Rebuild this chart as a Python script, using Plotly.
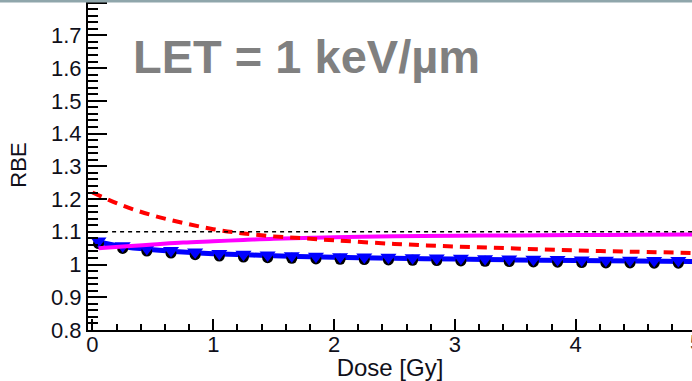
import plotly.graph_objects as go

# Dose grid for the continuous model curves [Gy]
dose_curve = [0.0, 0.25, 0.5, 0.75, 1.0, 1.25, 1.5, 1.75, 2.0, 2.5, 3.0, 3.5, 4.0, 4.5, 5.0]
# Red dashed model
rbe_red = [1.220, 1.180, 1.150, 1.127, 1.108, 1.095, 1.086, 1.080, 1.074, 1.063, 1.055, 1.049, 1.043, 1.039, 1.035]

# Magenta model
dose_mag = [0.05, 0.25, 0.5, 0.75, 1.0, 1.25, 1.5, 2.0, 2.5, 3.0, 3.5, 4.0, 4.5, 5.0]
rbe_mag = [1.050, 1.055, 1.061, 1.067, 1.071, 1.075, 1.079, 1.083, 1.086, 1.088, 1.089, 1.090, 1.091, 1.092]

# Blue model curve
dose_blue = [0.02, 0.25, 0.5, 0.75, 1.0, 1.5, 2.0, 2.5, 3.0, 3.5, 4.0, 4.5, 5.0]
rbe_blue = [1.072, 1.055, 1.045, 1.038, 1.033, 1.027, 1.022, 1.019, 1.017, 1.014, 1.012, 1.011, 1.009]

# Computed points (blue triangles and black circles)
dose_pts = [0.05, 0.25, 0.45, 0.65, 0.85, 1.05, 1.25, 1.45, 1.65, 1.85, 2.05, 2.25, 2.45,
            2.65, 2.85, 3.05, 3.25, 3.45, 3.65, 3.85, 4.05, 4.25, 4.45, 4.65, 4.85]
rbe_tri = [1.072, 1.057, 1.049, 1.043, 1.038, 1.034, 1.031, 1.029, 1.027, 1.025, 1.024, 1.023, 1.022,
           1.021, 1.020, 1.019, 1.018, 1.017, 1.016, 1.015, 1.014, 1.013, 1.013, 1.012, 1.012]
rbe_circ = [1.064, 1.049, 1.041, 1.035, 1.030, 1.026, 1.023, 1.021, 1.019, 1.017, 1.016, 1.015, 1.014,
            1.013, 1.012, 1.011, 1.010, 1.009, 1.008, 1.007, 1.006, 1.005, 1.005, 1.004, 1.004]

# Reference level
ref_dose = [0.03, 5.0]
ref_rbe = [1.1, 1.1]

x_range = [-0.037, 4.963]
y_range = [0.8, 1.808]
x_ticks = [0, 1, 2, 3, 4, 5]

label_font = dict(family="Liberation Sans, Arial, sans-serif", size=22, color="#10101a")
title_font = dict(family="Liberation Sans, Arial, sans-serif", size=24, color="#10101a")

fig = go.Figure()
fig.add_trace(go.Scatter(x=dose_blue, y=rbe_blue, mode="lines", line=dict(color="#0000ff", width=5),
                         line_shape="spline", hoverinfo="skip"))
fig.add_trace(go.Scatter(x=dose_pts, y=rbe_circ, mode="markers",
                         marker=dict(symbol="circle", size=11, color="#000000"), hoverinfo="skip"))
fig.add_trace(go.Scatter(x=dose_pts, y=rbe_tri, mode="markers",
                         marker=dict(symbol="triangle-down", size=14, color="#0000ff"), hoverinfo="skip"))
fig.add_trace(go.Scatter(x=dose_mag, y=rbe_mag, mode="lines", line=dict(color="#ff00ff", width=4),
                         line_shape="spline", hoverinfo="skip"))
fig.add_trace(go.Scatter(x=dose_curve, y=rbe_red, mode="lines",
                         line=dict(color="#ff0000", width=4, dash="10px,7px"),
                         line_shape="spline", hoverinfo="skip"))
fig.add_trace(go.Scatter(x=ref_dose, y=ref_rbe, mode="lines",
                         line=dict(color="#000000", width=1.5, dash="4px,4px"), hoverinfo="skip"))

# Tick label "5" sits just beyond the visible range at the right edge
x5_paper = (x_ticks[-1] - x_range[0]) / (x_range[1] - x_range[0])

fig.update_layout(
    width=692, height=381,
    margin=dict(l=88, r=0, t=0, b=51),
    paper_bgcolor="white", plot_bgcolor="white",
    showlegend=False,
    xaxis=dict(range=x_range, tickvals=x_ticks[:-1], ticks="inside", ticklen=11, tickwidth=1.5,
               tickcolor="black", showline=True, linecolor="black", linewidth=2,
               showgrid=False, zeroline=False, tickfont=label_font, ticklabelstandoff=-6,
               minor=dict(dtick=0.2, ticks="inside", ticklen=6, tickwidth=1.5, tickcolor="black", showgrid=False),
               title=dict(text="Dose [Gy]", font=title_font, standoff=0)),
    yaxis=dict(range=y_range, dtick=0.1, tick0=0.8, ticks="inside", ticklen=19, tickwidth=1.5,
               tickcolor="black", showline=True, linecolor="black", linewidth=2,
               showgrid=False, zeroline=False, tickfont=label_font,
               minor=dict(dtick=0.02, ticks="inside", ticklen=10, tickwidth=1.5, tickcolor="black", showgrid=False),
               title=dict(text="RBE", font=label_font, standoff=18)),
    annotations=[
        dict(text="<b>LET = 1 keV/µm</b>", xref="paper", yref="paper", x=0.0712, y=0.828,
             xanchor="left", yanchor="middle", showarrow=False,
             font=dict(family="Liberation Sans, Arial, sans-serif", size=47, color="#808080")),
        dict(text="5", xref="paper", yref="paper", x=x5_paper, y=0, yshift=2,
             xanchor="center", yanchor="top", showarrow=False, font=label_font),
    ],
    shapes=[
        dict(type="rect", xref="paper", yref="paper", x0=-0.2, x1=1.0, y0=1 - 2.5 / 330, y1=1.0,
             fillcolor="#8fa6ab", line=dict(width=0), layer="above"),
    ],
)

fig.write_html("out.html")
